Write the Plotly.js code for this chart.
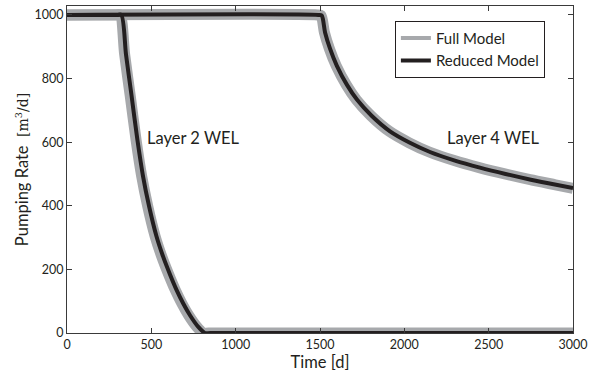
<!DOCTYPE html>
<html>
<head>
<meta charset="utf-8">
<script src="https://cdn.plot.ly/plotly-3.0.1.min.js"></script>
<style>
  html, body { margin: 0; padding: 0; background: #fff; }
  #chart { width: 591px; height: 375px; }
</style>
</head>
<body>
<div id="chart"></div>
<script>
// Well pumping rates (m^3/d) over time (d)

// Layer 2 well: full model
const layer2FullT = [0, 290, 314, 342, 375, 410, 442, 478, 522, 562, 602, 642, 682, 722, 769, 808, 840, 3000];
const layer2FullQ = [1000, 1000, 1000, 875, 745, 605, 495, 400, 305, 240, 185, 135, 92, 55, 20, 0, 0, 0];

// Layer 2 well: reduced model
const layer2RedT = [0, 298, 322, 350, 383, 418, 450, 486, 530, 570, 610, 650, 690, 730, 777, 818, 850, 3000];
const layer2RedQ = [1000, 1000, 1000, 875, 745, 605, 495, 400, 305, 240, 185, 135, 92, 55, 20, 0, 0, 0];

// Layer 4 well: full model
const layer4FullT = [0, 1485, 1506, 1526, 1556, 1596, 1656, 1716, 1802, 1911, 2029, 2148, 2296, 2444, 2596, 2746, 2896, 3000];
const layer4FullQ = [1000, 1000, 998, 945, 893, 840, 780, 733, 683, 634, 598, 569, 542, 520, 500, 482, 466, 455];

// Layer 4 well: reduced model
const layer4RedT = [0, 1490, 1510, 1530, 1560, 1600, 1660, 1720, 1806, 1915, 2033, 2152, 2300, 2448, 2600, 2750, 2900, 3000];
const layer4RedQ = [1000, 1000, 998, 945, 893, 840, 780, 733, 683, 634, 598, 569, 542, 520, 500, 482, 466, 456];

const seriesNames = ['Full Model', 'Reduced Model'];
const xTicks = [0, 500, 1000, 1500, 2000, 2500, 3000];
const yTicks = [0, 200, 400, 600, 800, 1000];

const GRAY = '#a7a9ac';
const BLACK = '#231f20';
const FONT = 'Lato, "Open Sans", sans-serif';

function curve(x, y, color, width) {
  return {
    x: x, y: y, type: 'scatter', mode: 'lines',
    line: { color: color, width: width, shape: 'spline', smoothing: 0.8 },
    showlegend: false, hoverinfo: 'skip'
  };
}

function legendEntry(name, color) {
  return {
    x: [null], y: [null], type: 'scatter', mode: 'lines', name: name,
    line: { color: color, width: 4 }
  };
}

const traces = [
  curve(layer2FullT, layer2FullQ, GRAY, 11),
  curve(layer4FullT, layer4FullQ, GRAY, 11),
  curve(layer2RedT, layer2RedQ, BLACK, 4),
  curve(layer4RedT, layer4RedQ, BLACK, 4),
  legendEntry(seriesNames[0], GRAY),
  legendEntry(seriesNames[1], BLACK)
];

const axisCommon = {
  showline: true, linecolor: '#3a3a3a', linewidth: 1, mirror: 'ticks',
  ticks: 'inside', ticklen: 5, tickwidth: 1, tickcolor: '#3a3a3a',
  showgrid: false, zeroline: false,
  tickfont: { family: FONT, size: 12.5, color: '#231f20' }
};

const layout = {
  width: 591, height: 375,
  margin: { l: 67, r: 18, t: 6, b: 42 },
  paper_bgcolor: '#fff', plot_bgcolor: '#fff',
  font: { family: FONT, color: '#231f20' },
  xaxis: Object.assign({}, axisCommon, {
    range: [0, 3000], tickvals: xTicks, ticktext: xTicks.map(String),
    title: { text: 'Time [d]', font: { family: FONT, size: 16.5, color: '#231f20' }, standoff: 0 }
  }),
  yaxis: Object.assign({}, axisCommon, {
    range: [0, 1028], tickvals: yTicks, ticktext: yTicks.map(String),
    title: {
      text: 'Pumping Rate  <span style="font-family:\'DejaVu Serif\', serif; font-size:14px">[m<sup>3</sup>/d]</span>',
      font: { family: FONT, size: 16.5, color: '#231f20' }, standoff: 1
    }
  }),
  legend: {
    x: 0.648, y: 0.955, xanchor: 'left', yanchor: 'top',
    bgcolor: '#fff', bordercolor: '#231f20', borderwidth: 1,
    font: { family: FONT, size: 15, color: '#231f20' },
    tracegroupgap: 0
  },
  annotations: [
    { x: 462, y: 613, xref: 'x', yref: 'y', text: 'Layer 2 WEL', showarrow: false,
      xanchor: 'left', yanchor: 'middle', font: { family: FONT, size: 16.5, color: '#231f20' } },
    { x: 2241, y: 613, xref: 'x', yref: 'y', text: 'Layer 4 WEL', showarrow: false,
      xanchor: 'left', yanchor: 'middle', font: { family: FONT, size: 16.5, color: '#231f20' } }
  ]
};

Plotly.newPlot('chart', traces, layout, { displayModeBar: false, staticPlot: true });
</script>
</body>
</html>
